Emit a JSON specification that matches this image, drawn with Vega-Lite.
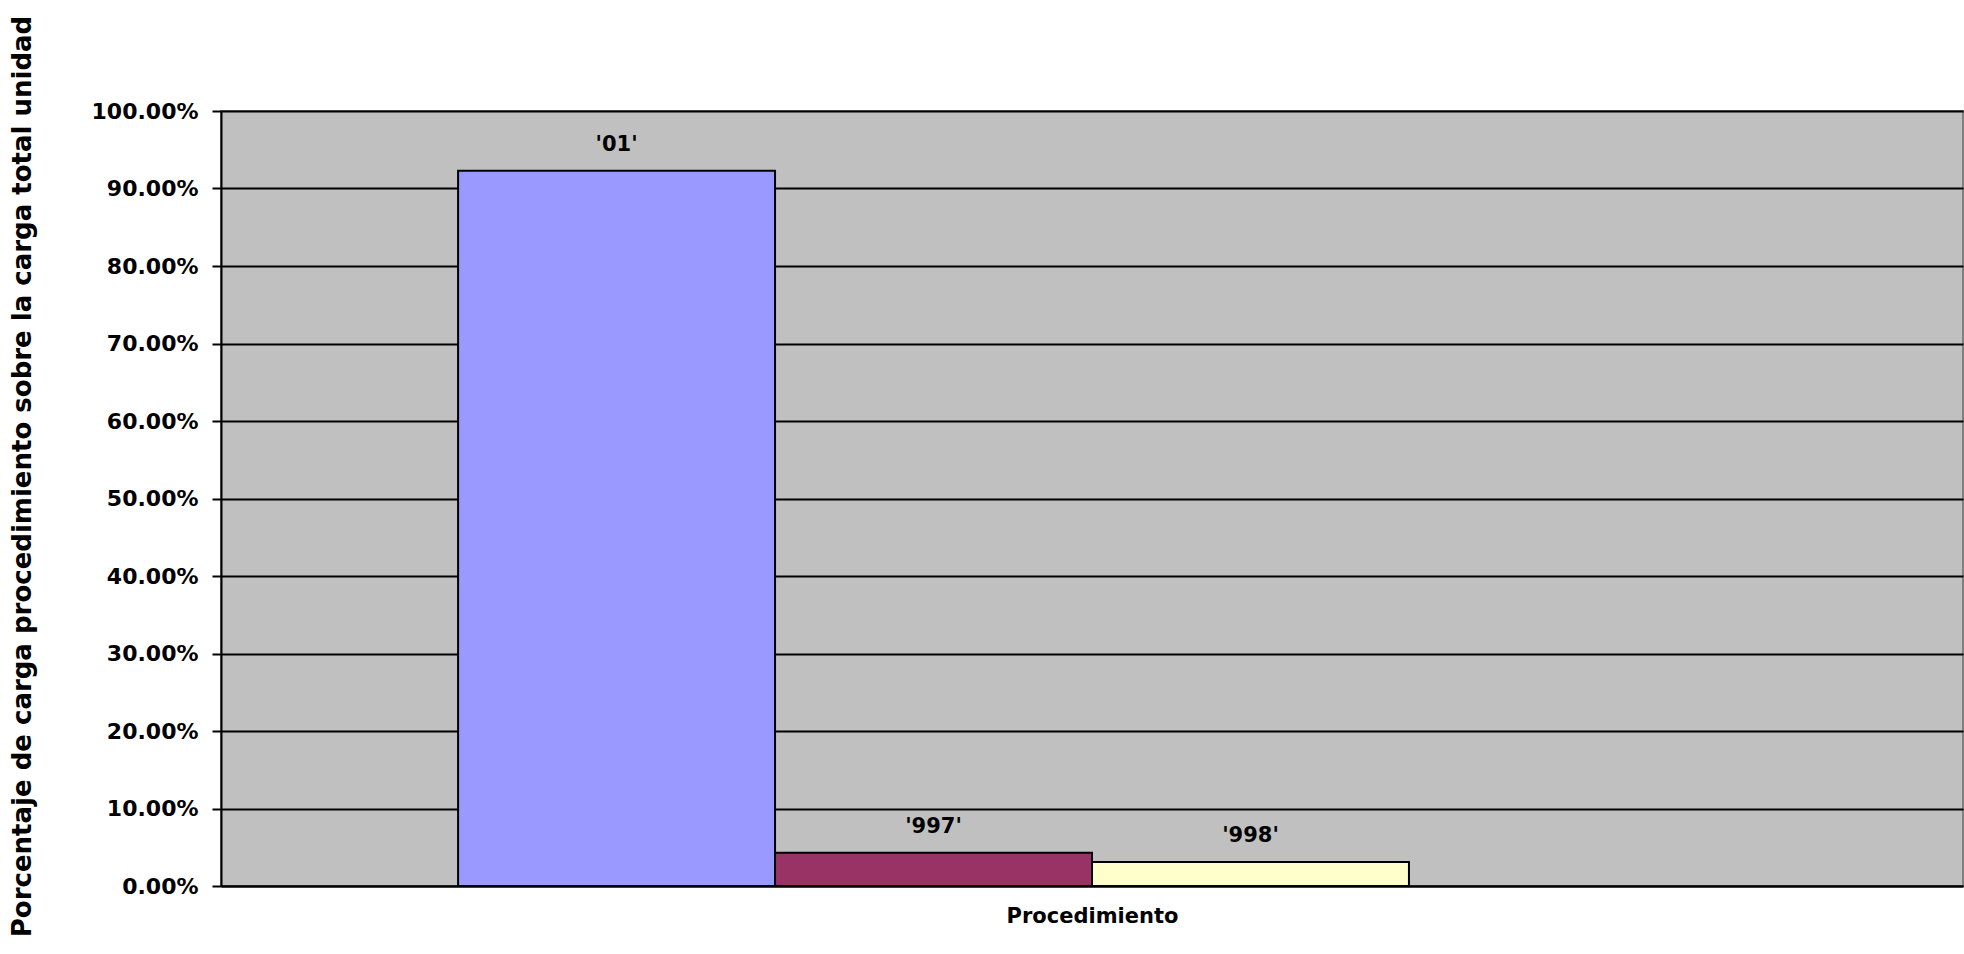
{
  "$schema": "https://vega.github.io/schema/vega-lite/v6.json",
  "width": 1742,
  "height": 775,
  "autosize": {"type": "none"},
  "padding": {"left": 221, "top": 111, "right": 1, "bottom": 68},
  "background": "white",
  "config": {
    "view": {"fill": "#C0C0C0", "stroke": "#808080", "strokeWidth": 2},
    "font": "DejaVu Sans"
  },
  "data": {
    "values": [
      {"procedimiento": "'01'", "porcentaje": 0.923},
      {"procedimiento": "'997'", "porcentaje": 0.043},
      {"procedimiento": "'998'", "porcentaje": 0.031}
    ]
  },
  "encoding": {
    "x": {
      "field": "procedimiento",
      "type": "nominal",
      "sort": null,
      "scale": {"domain": ["'01'", "'997'", "'998'", ""], "paddingInner": 0, "paddingOuter": 0.748},
      "axis": {
        "title": "Procedimiento",
        "labels": false,
        "ticks": false,
        "grid": false,
        "domainColor": "black",
        "domainWidth": 2,
        "titleFont": "DejaVu Sans",
        "titleFontWeight": "bold",
        "titleFontSize": 21,
        "titleColor": "black",
        "titleBaseline": "middle",
        "titleY": 30
      }
    },
    "y": {
      "field": "porcentaje",
      "type": "quantitative",
      "scale": {"domain": [0, 1], "nice": false},
      "axis": {
        "values": [0, 0.1, 0.2, 0.3, 0.4, 0.5, 0.6, 0.7, 0.8, 0.9, 1],
        "format": ".2%",
        "grid": true,
        "gridColor": "black",
        "gridWidth": 2,
        "gridOpacity": 1,
        "domainColor": "black",
        "domainWidth": 2,
        "tickColor": "black",
        "tickSize": 9,
        "tickWidth": 2,
        "labelPadding": 14,
        "labelFont": "DejaVu Sans",
        "labelFontWeight": "bold",
        "labelFontSize": 22,
        "labelColor": "black",
        "title": "Porcentaje de carga procedimiento sobre la carga total unidad",
        "titleFont": "DejaVu Sans",
        "titleFontWeight": "bold",
        "titleFontSize": 26,
        "titleColor": "black",
        "titleAngle": -90,
        "titleAlign": "center",
        "titleBaseline": "middle",
        "titleX": -199,
        "titleY": 365
      }
    }
  },
  "layer": [
    {
      "mark": {"type": "bar", "stroke": "black", "strokeWidth": 2},
      "encoding": {
        "color": {
          "field": "procedimiento",
          "type": "nominal",
          "sort": null,
          "scale": {"domain": ["'01'", "'997'", "'998'"], "range": ["#9999FF", "#993366", "#FFFFCC"]},
          "legend": null
        }
      }
    },
    {
      "mark": {"type": "text", "dy": -26, "baseline": "middle", "align": "center", "font": "DejaVu Sans", "fontWeight": "bold", "fontSize": 21, "color": "black"},
      "encoding": {"text": {"field": "procedimiento"}}
    }
  ]
}
